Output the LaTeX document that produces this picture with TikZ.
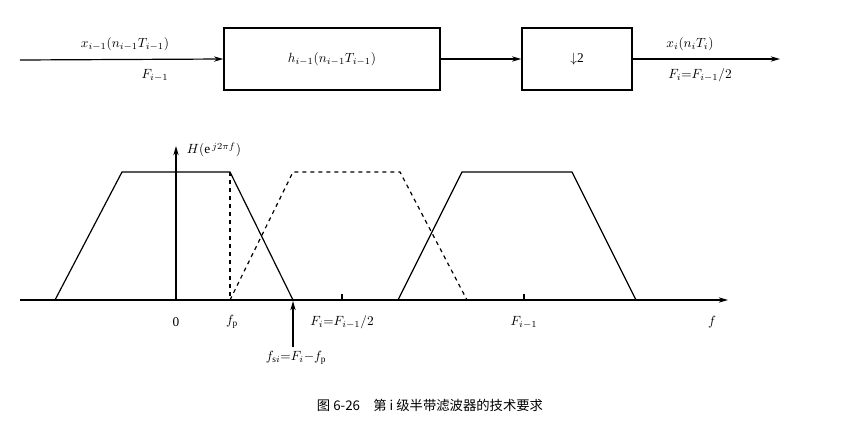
\documentclass[tikz,border=0pt]{standalone}
\usepackage{fontspec}
\setmainfont{Liberation Serif}
\newfontfamily\cjk{Noto Sans CJK SC}
\usetikzlibrary{arrows.meta}
\begin{document}
\begin{tikzpicture}[x=0.75pt,y=-0.75pt,
  blk/.style={draw,line width=1.1pt},
  ln/.style={line width=0.9pt},
  arr/.style={ln,-{Stealth[length=7pt,width=4pt]}},
  lbl/.style={font=\normalsize}]
\useasboundingbox (0,0) rectangle (865,425);
% block diagram
\coordinate (in) at (20,60);
\node[blk,minimum width=216*0.75pt,minimum height=62*0.75pt] (h) at (332,59) {};
\node[lbl] (hl) at (h) {$h_{i-1}(n_{i-1}T_{i-1})$};
\node[blk,minimum width=110*0.75pt,minimum height=62*0.75pt] (d) at (577,59) {};
\node[lbl] (dl) at (d) {$\downarrow$2};
\coordinate (out) at (780,59);
\draw[arr] (in) -- (h.west);
\draw[arr] (h.east) -- (d.west);
\draw[arr] (d.east) -- (out);
\node[lbl] (xin) at (125,44) {$x_{i-1}(n_{i-1}T_{i-1})$};
\node[lbl] (fin) at (155,75) {$F_{i-1}$};
\node[lbl] (xo) at (690,44) {$x_i(n_iT_i)$};
\node[lbl] (fo) at (700,75) {$F_i{=}F_{i-1}/2$};
% spectrum
\coordinate (a0) at (20,300);
\coordinate (a1) at (728,300);
\draw[arr] (a0) -- (a1);
\coordinate (v0) at (176,300);
\coordinate (v1) at (176,146);
\draw[arr] (v0) -- (v1);
\node[lbl] (H) at (214,150) {$H(\mathrm{e}^{\,j2\pi f})$};
\draw[ln] (55,300) -- (122,172) -- (230,172) -- (293,300);
\draw[ln,dashed] (230,172) -- (230,300);
\draw[ln,dashed] (230,300) -- (293,172) -- (400,172) -- (467,300);
\draw[ln] (398,300) -- (462,172) -- (572,172) -- (636,300);
\draw[ln] (342,300) -- (342,294);
\draw[ln] (524,300) -- (524,294);
\node[lbl] (z) at (176,322) {0};
\node[lbl] (fp) at (232,322) {$f_{\mathrm p}$};
\node[lbl] (Fi) at (342,322) {$F_i{=}F_{i-1}/2$};
\node[lbl] (Fim) at (524,322) {$F_{i-1}$};
\node[lbl] (f) at (712,322) {$f$};
\node[lbl] (fs) at (296,358) {$f_{\mathrm{s}i}{=}F_i{-}f_{\mathrm p}$};
\coordinate (fsa) at (293,301);
\draw[arr] (fs.north -| fsa) -- (fsa);
\node[font=\cjk\normalsize] (cap) at (430,405) {图 6-26\quad 第 \textit{i} 级半带滤波器的技术要求};
\end{tikzpicture}
\end{document}
